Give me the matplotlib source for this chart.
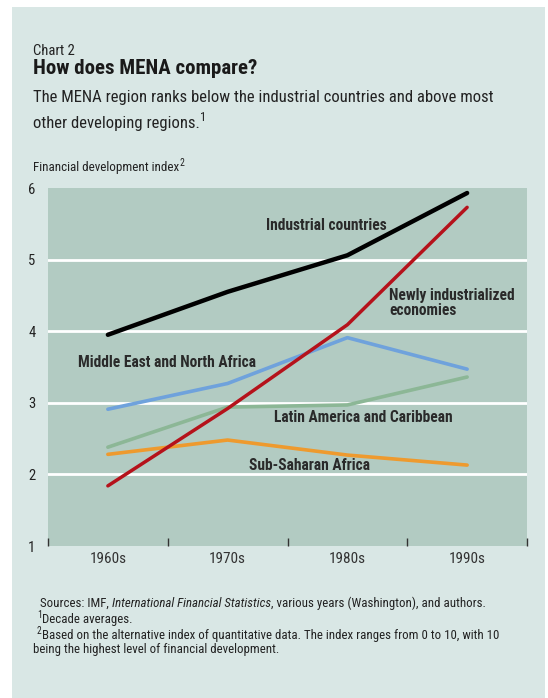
import matplotlib
matplotlib.use("Agg")
import matplotlib.pyplot as plt
from matplotlib import font_manager
from matplotlib.patches import Rectangle

# ---- data -------------------------------------------------------------
decades = ["1960s", "1970s", "1980s", "1990s"]
industrial = [3.95, 4.55, 5.06, 5.93]
newly_industrialized = [1.84, 2.92, 4.09, 5.73]
mena = [2.91, 3.27, 3.91, 3.47]
latin_america = [2.38, 2.94, 2.97, 3.36]
sub_saharan = [2.28, 2.48, 2.27, 2.13]
y_ticks = [1, 2, 3, 4, 5, 6]

# ---- fonts ------------------------------------------------------------
available = {f.name for f in font_manager.fontManager.ttflist}
narrow = "DejaVu Sans"
for cand in ["Roboto Condensed", "Liberation Sans Narrow", "Archivo Narrow",
             "PT Sans Narrow", "Fira Sans Condensed"]:
    if cand in available:
        narrow = cand
        break

W, H = 548, 698
fig = plt.figure(figsize=(W / 100, H / 100), dpi=100)
fig.patch.set_facecolor("white")

panel_color = "#d9e7e5"
plot_color = "#b2cbc2"

# light backdrop panel
fig.add_artist(Rectangle((12 / W, 0), (545 - 12) / W, 1 - 7 / H,
                         transform=fig.transFigure, facecolor=panel_color,
                         edgecolor="none", zorder=0))


def fx(px):
    return px / W


def fy(py):
    return 1 - py / H


renderer = fig.canvas.get_renderer()


def text_runs(x_px, y_px, runs, size, color="#222222"):
    """Draw consecutive text pieces on one baseline, each with its own style."""
    x = fx(x_px)
    for s, style in runs:
        kw = dict(family=narrow, fontsize=size, color=color, va="baseline")
        y = fy(y_px)
        if style == "italic":
            kw["style"] = "italic"
        elif style == "sup":
            kw["fontsize"] = size * 0.75
            y = fy(y_px - size * 0.55)
        t = fig.text(x, y, s, **kw)
        bb = t.get_window_extent(renderer=renderer)
        x += bb.width / W


# ---- headings ---------------------------------------------------------
fig.text(fx(33), fy(55), "Chart 2", family=narrow, fontsize=10.5,
         color="#222222", va="baseline")
fig.text(fx(33), fy(74), "How does MENA compare?", family=narrow,
         fontsize=15, fontweight="bold", color="#1a1a1a", va="baseline")
fig.text(fx(33), fy(102),
         "The MENA region ranks below the industrial countries and above most",
         family=narrow, fontsize=12, color="#222222", va="baseline")
text_runs(33, 128, [("other developing regions.", None), ("1", "sup")], 12)
text_runs(33, 171, [("Financial development index", None), ("2", "sup")], 9.4)

# ---- axes -------------------------------------------------------------
left, right, top, bottom = 48, 527, 188, 546
ax = fig.add_axes([fx(left), fy(bottom), (right - left) / W, (bottom - top) / H])
ax.set_facecolor(plot_color)
for s in ax.spines.values():
    s.set_visible(False)

x = list(range(len(decades)))
ax.set_xlim(-0.5, len(decades) - 0.5)
ax.set_ylim(y_ticks[0], y_ticks[-1])

for yv in y_ticks[1:-1]:
    ax.axhline(yv, color="white", lw=2.0, zorder=1)

ax.set_yticks(y_ticks)
ax.set_yticklabels([str(v) for v in y_ticks], family=narrow, fontsize=10.5,
                   color="#222222")
ax.tick_params(axis="y", length=0, pad=9)

# category labels centred on each decade, separator ticks between them
ax.set_xticks(x)
ax.set_xticklabels(decades, family=narrow, fontsize=11, color="#333333")
ax.tick_params(axis="x", which="major", length=0, pad=4)
ax.set_xticks([i - 0.5 for i in range(len(decades) + 1)], minor=True)
ax.tick_params(axis="x", which="minor", direction="in", length=6,
               width=1.0, color="#333333", bottom=True)

series = [
    (latin_america, "#8cb796", 2.6),
    (sub_saharan, "#ee9a2e", 2.6),
    (mena, "#6fa2dc", 2.6),
    (newly_industrialized, "#b5121b", 2.5),
    (industrial, "#000000", 3.2),
]
for vals, col, lw in series:
    ax.plot(x, vals, color=col, lw=lw, solid_capstyle="round",
            solid_joinstyle="round", zorder=3)

label_kw = dict(family=narrow, fontsize=11.2, fontweight="bold",
                color="#2a2a2a", va="center", ha="left", zorder=4)
ax.text(1.32, 5.47, "Industrial countries", **label_kw)
ax.text(2.35, 4.40, "Newly industrialized\neconomies", linespacing=1.0,
        **label_kw)
ax.text(-0.25, 3.56, "Middle East and North Africa", **label_kw)
ax.text(1.39, 2.80, "Latin America and Caribbean", **label_kw)
ax.text(1.175, 2.12, "Sub-Saharan Africa", **label_kw)

# ---- notes ------------------------------------------------------------
ns = 9.3
text_runs(40, 607, [("Sources: IMF, ", None),
                    ("International Financial Statistics", "italic"),
                    (", various years (Washington), and authors.", None)], ns)
text_runs(37, 623, [("1", "sup"), ("Decade averages.", None)], ns)
text_runs(37, 639, [("2", "sup"),
                    ("Based on the alternative index of quantitative data. "
                     "The index ranges from 0 to 10, with 10", None)], ns)
text_runs(33, 653, [("being the highest level of financial development.", None)], ns)

fig.savefig("out.png", dpi=100, facecolor=fig.get_facecolor())
